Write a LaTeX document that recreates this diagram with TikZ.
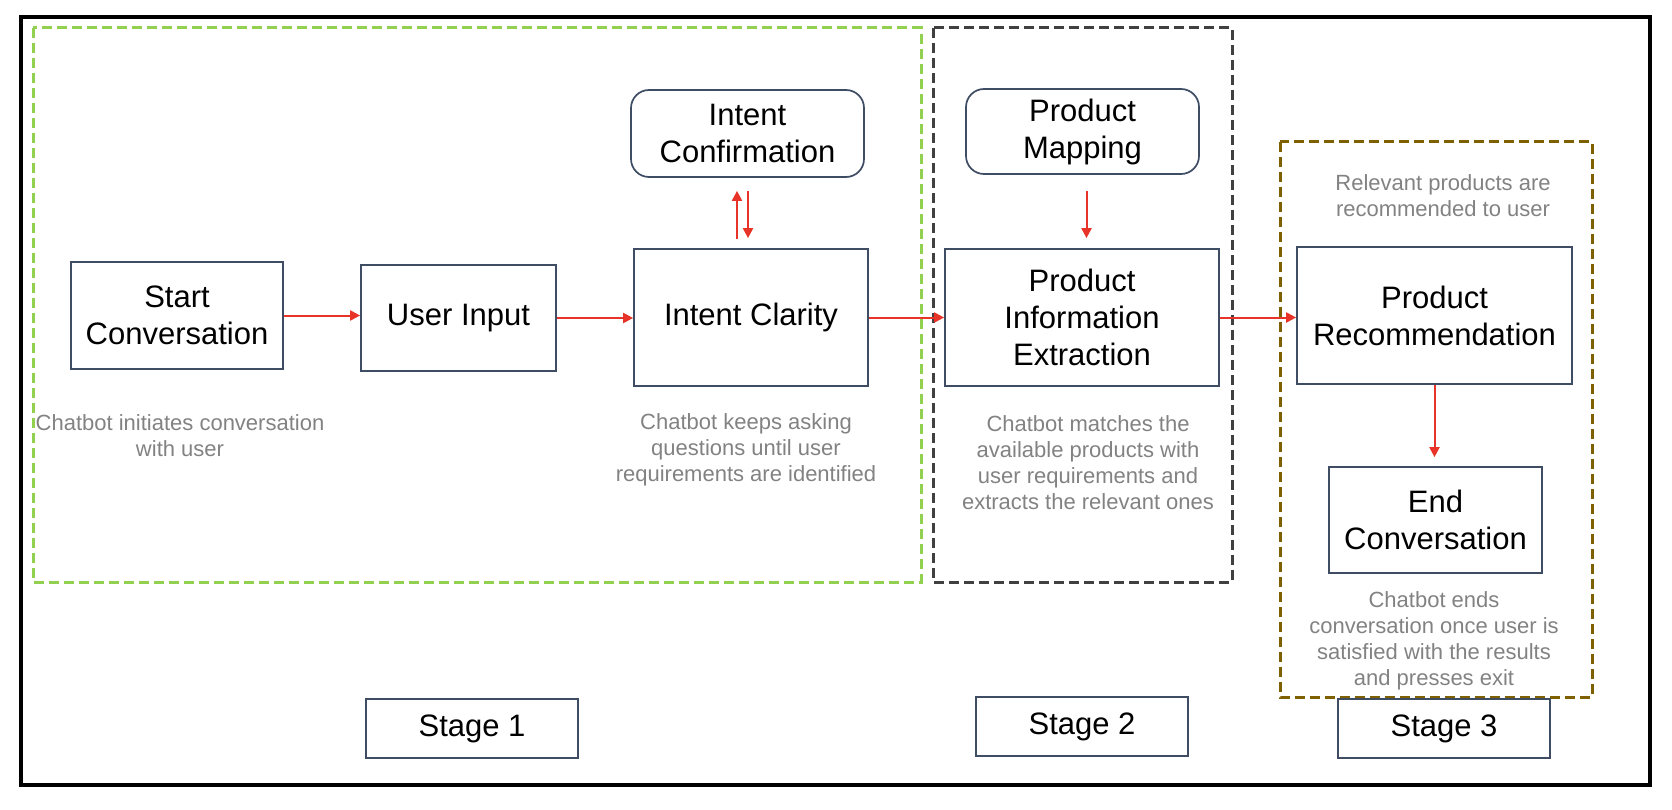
\documentclass[tikz,border=0pt]{standalone}
\usepackage{fontspec}
\setmainfont{Liberation Sans}
\usetikzlibrary{arrows.meta,calc}
\definecolor{nodeblue}{RGB}{62,76,100}
\definecolor{arrred}{RGB}{232,52,40}
\definecolor{lgreen}{RGB}{146,208,80}
\definecolor{dgray}{RGB}{64,64,64}
\definecolor{olive}{RGB}{127,96,0}
\definecolor{txtgray}{RGB}{130,130,130}
\tikzset{
  box/.style={draw=nodeblue, line width=1.7pt, inner sep=0pt, align=center,
    font=\fontsize{31}{37}\selectfont},
  rbox/.style={box, rounded corners=18pt},
  note/.style={text=txtgray, align=center, inner sep=0pt,
    font=\fontsize{22}{26}\selectfont},
  arr/.style={draw=arrred, line width=2pt, -{Triangle[length=10pt,width=10pt]}},
  stagebox/.style={line width=3pt, dash pattern=on 10pt off 5pt},
}
\begin{document}
\begin{tikzpicture}[x=1pt,y=-1pt]
\useasboundingbox (0,0) rectangle (1672,810);
% outer frame
\draw[line width=3.2pt] (21,17) rectangle (1650,785);
% stage frames
\draw[stagebox, draw=lgreen] (33,28) rectangle (921,582);
\draw[stagebox, draw=dgray] (933,28) rectangle (1232,582);
\draw[stagebox, draw=olive] (1280,142) rectangle (1592,697);

% nodes
\node[box, minimum width=212pt, minimum height=107pt] (sc) at (177,315.5) {Start\\Conversation};
\node[box, minimum width=195pt, minimum height=106pt] (ui) at (458.5,318) {User Input};
\node[box, minimum width=234pt, minimum height=137pt] (ic) at (751,317.5) {Intent Clarity};
\node[rbox, minimum width=233pt, minimum height=87pt] (icf) at (747.5,133.5) {Intent\\Confirmation};
\node[rbox, minimum width=233pt, minimum height=85pt] (pm) at (1082.5,131.5) {Product\\Mapping};
\node[box, minimum width=274pt, minimum height=137pt] (pie) at (1082,317.5) {Product\\Information\\Extraction};
\node[box, minimum width=275pt, minimum height=137pt] (pr) at (1434.5,315.5) {Product\\Recommendation};
\node[box, minimum width=213pt, minimum height=106pt] (ec) at (1435.5,520) {End\\Conversation};
\node[box, minimum width=212pt, minimum height=59pt] (s1) at (472,728.5) {Stage 1};
\node[box, minimum width=212pt, minimum height=59pt] (s2) at (1082,726.5) {Stage 2};
\node[box, minimum width=212pt, minimum height=59pt] (s3) at (1444,728.5) {Stage 3};

% notes
\node[note] (n1) at (180,436) {Chatbot initiates conversation\\with user};
\node[note] (n2) at (746,449.5) {Chatbot keeps asking\\questions until user\\requirements are identified};
\node[note] (n3) at (1088,463) {Chatbot matches the\\available products with\\user requirements and\\extracts the relevant ones};
\node[note] (n4) at (1443,195.5) {Relevant products are\\recommended to user};
\node[note] (n5) at (1434,641) {Chatbot ends\\conversation once user is\\satisfied with the results\\and presses exit};

% connectors
\draw[arr] (sc.east) -- (sc.east -| ui.west);
\draw[arr] (ui.east) -- (ui.east -| ic.west);
\draw[arr] (ic.east) -- (ic.east -| pie.west);
\draw[arr] (pie.east) -- (pie.east -| pr.west);
\draw[arr, shorten <=9pt, shorten >=13pt] ([xshift=-14pt]ic.north) -- ([xshift=-14pt]ic.north |- icf.south);
\draw[arr, shorten <=13pt, shorten >=10pt] ([xshift=-3pt]ic.north |- icf.south) -- ([xshift=-3pt]ic.north);
\draw[arr, shorten <=16pt, shorten >=10pt] ([xshift=4pt]pm.south) -- ([xshift=4pt]pm.south |- pie.north);
\draw[arr, shorten >=9pt] (pr.south) -- (pr.south |- ec.north);
\end{tikzpicture}
\end{document}
